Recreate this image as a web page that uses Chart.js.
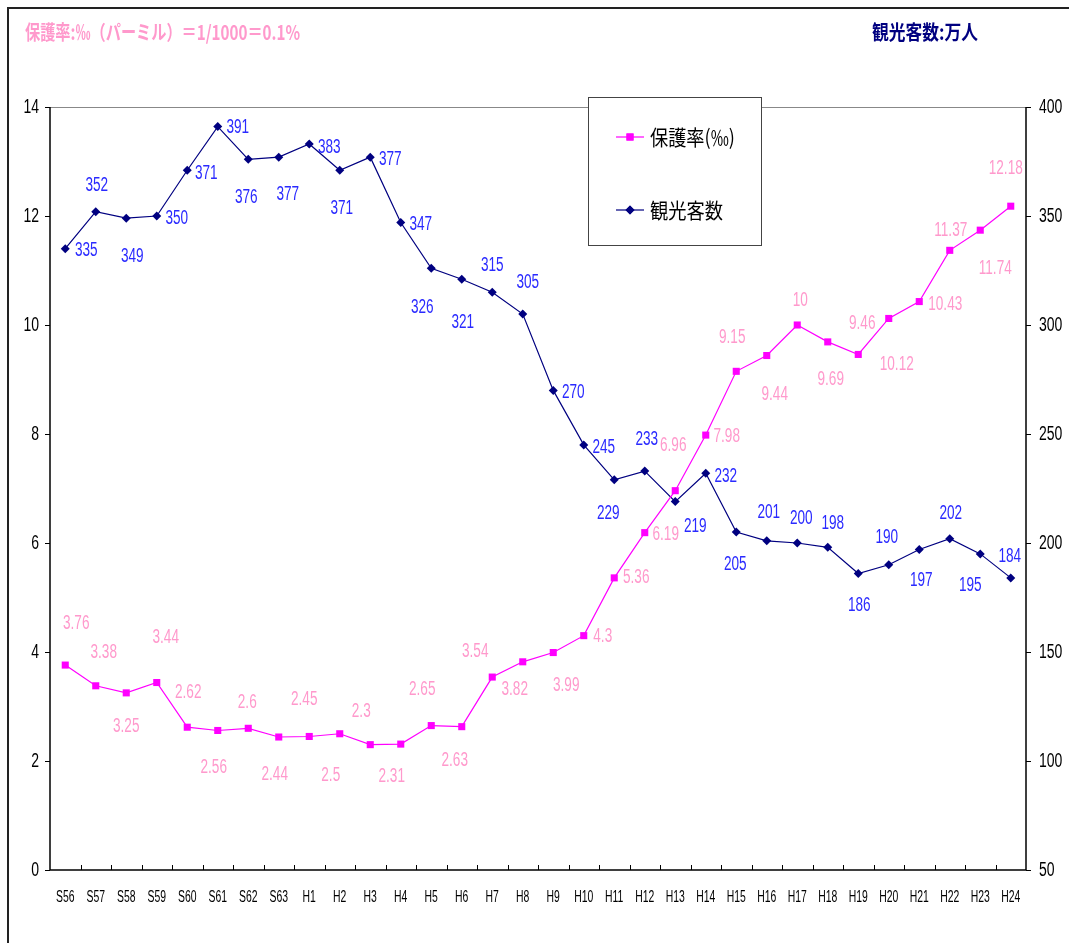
<!DOCTYPE html>
<html>
<head>
<meta charset="utf-8">
<script src="https://cdn.jsdelivr.net/npm/chart.js@4.4.0/dist/chart.umd.min.js"></script>
<style>
    html, body { margin: 0; padding: 0; background: #fff; }
    #wrap { width: 1069px; height: 943px; position: relative; }
</style>
</head>
<body>
<div id="wrap"><canvas id="chart" width="1069" height="943"></canvas></div>
<script>
// Data
const years = ['S56', 'S57', 'S58', 'S59', 'S60', 'S61', 'S62', 'S63',
    'H1', 'H2', 'H3', 'H4', 'H5', 'H6', 'H7', 'H8', 'H9', 'H10', 'H11', 'H12',
    'H13', 'H14', 'H15', 'H16', 'H17', 'H18', 'H19', 'H20', 'H21', 'H22', 'H23', 'H24'];
const protectRate = [3.76, 3.38, 3.25, 3.44, 2.62, 2.56, 2.6, 2.44, 2.45, 2.5, 2.3, 2.31,
    2.65, 2.63, 3.54, 3.82, 3.99, 4.3, 5.36, 6.19, 6.96, 7.98, 9.15, 9.44,
    10, 9.69, 9.46, 10.12, 10.43, 11.37, 11.74, 12.18];
const visitors = [335, 352, 349, 350, 371, 391, 376, 377, 383, 371, 377, 347,
    326, 321, 315, 305, 270, 245, 229, 233, 219, 232, 205, 201,
    200, 198, 186, 190, 197, 202, 195, 184];
const leftTicks = [0, 2, 4, 6, 8, 10, 12, 14];
const rightTicks = [50, 100, 150, 200, 250, 300, 350, 400];

// where each value label sits relative to its point (dx, dy)
const rateLabelPos = [[11,-42],[8,-33],[0,34],[9,-45],[1,-35],[-4,37],[-1,-26],[-4,37],
    [-5,-37],[-9,42],[-9,-33],[-9,32],[-9,-36],[-7,34],[-17,-26],[-8,28],
    [13,33],[19,1],[22,0],[21,2],[-2,-45],[21,1],[-4,-34],[8,39],
    [3,-25],[3,38],[4,-31],[8,46],[26,3],[1,-20],[15,38],[-5,-38]];
const visitorLabelPos = [[21,2],[1,-26],[6,38],[20,2],[19,3],[20,1],[-2,38],[9,37],
    [20,3],[2,38],[20,2],[20,2],[-9,39],[1,43],[0,-27],[5,-32],
    [20,2],[20,3],[-6,34],[2,-32],[20,25],[20,3],[-1,32],[2,-28],
    [4,-25],[5,-24],[1,32],[-2,-27],[2,31],[1,-25],[-10,32],[-1,-21]];

const NUM_FONT = '20px "Liberation Sans", Arial, sans-serif';
const CJK = '"Noto Sans CJK JP", "Noto Sans", sans-serif';

function narrowText(ctx, text, x, y, sx, align) {
    ctx.save();
    ctx.translate(x, y);
    ctx.scale(sx, 1);
    ctx.textAlign = align || 'center';
    ctx.textBaseline = 'middle';
    ctx.fillText(text, 0, 0);
    ctx.restore();
}

// left-aligned text squeezed to a given width
function fitText(ctx, text, x, y, width) {
    const w = ctx.measureText(text).width;
    narrowText(ctx, text, x, y, width / w, 'left');
}

const decor = {
    id: 'decor',
    beforeDraw(chart) {
        const ctx = chart.ctx;
        ctx.save();
        ctx.fillStyle = '#fff';
        ctx.fillRect(0, 0, chart.width, chart.height);
        // outer frame
        ctx.strokeStyle = '#222';
        ctx.lineWidth = 2;
        ctx.strokeRect(8, 8, chart.width + 10, chart.height + 10);
        ctx.restore();
    },
    beforeDatasetsDraw(chart) {
        const ctx = chart.ctx;
        const a = chart.chartArea;
        const x = chart.scales.x, y = chart.scales.y, y1 = chart.scales.y1;
        ctx.save();
        // grey top edge of plot
        ctx.strokeStyle = '#888';
        ctx.lineWidth = 1;
        ctx.beginPath();
        ctx.moveTo(a.left, a.top + 0.5);
        ctx.lineTo(a.right, a.top + 0.5);
        ctx.stroke();

        ctx.strokeStyle = '#000';
        ctx.lineWidth = 1.5;
        ctx.beginPath();
        ctx.moveTo(a.left, a.top);
        ctx.lineTo(a.left, a.bottom);
        ctx.lineTo(a.right, a.bottom);
        ctx.lineTo(a.right, a.top);
        ctx.stroke();

        ctx.lineWidth = 1;
        ctx.beginPath();
        leftTicks.forEach(v => {
            const py = Math.round(y.getPixelForValue(v)) + 0.5;
            ctx.moveTo(a.left - 5, py);
            ctx.lineTo(a.left, py);
        });
        rightTicks.forEach(v => {
            const py = Math.round(y1.getPixelForValue(v)) + 0.5;
            ctx.moveTo(a.right, py);
            ctx.lineTo(a.right + 5, py);
        });
        for (let k = 1; k < years.length; k++) {
            const px = Math.round((x.getPixelForValue(k - 1) + x.getPixelForValue(k)) / 2) + 0.5;
            ctx.moveTo(px, a.bottom);
            ctx.lineTo(px, a.bottom - 5);
        }
        ctx.stroke();

        // tick labels
        ctx.fillStyle = '#000';
        ctx.font = NUM_FONT;
        leftTicks.forEach(v => narrowText(ctx, String(v), a.left - 11, y.getPixelForValue(v), 0.7, 'right'));
        rightTicks.forEach(v => narrowText(ctx, String(v), a.right + 13, y1.getPixelForValue(v), 0.7, 'left'));
        ctx.font = '16px "Liberation Sans", Arial, sans-serif';
        years.forEach((t, i) => narrowText(ctx, t, x.getPixelForValue(i), a.bottom + 28, 0.65, 'center'));
        ctx.restore();
    },
    afterDatasetsDraw(chart) {
        const ctx = chart.ctx;
        ctx.save();
        ctx.font = NUM_FONT;
        const sets = [
            { meta: chart.getDatasetMeta(0), vals: protectRate, pos: rateLabelPos, color: '#ff99cc' },
            { meta: chart.getDatasetMeta(1), vals: visitors, pos: visitorLabelPos, color: '#2a2aff' }
        ];
        sets.forEach(s => {
            ctx.fillStyle = s.color;
            s.meta.data.forEach((pt, i) => {
                narrowText(ctx, String(s.vals[i]), pt.x + s.pos[i][0], pt.y + s.pos[i][1], 0.68, 'center');
            });
        });
        ctx.restore();
    },
    afterDraw(chart) {
        const ctx = chart.ctx;
        ctx.save();
        // titles
        ctx.font = 'bold 20px ' + CJK;
        ctx.fillStyle = '#ff99cc';
        fitText(ctx, '保護率:‰（パーミル）＝1/1000＝0.1%', 25, 32, 275);
        ctx.fillStyle = '#000080';
        fitText(ctx, '観光客数:万人', 872, 32, 106);

        // legend box
        ctx.fillStyle = '#fff';
        ctx.fillRect(588, 97, 174, 149);
        ctx.strokeStyle = '#444';
        ctx.lineWidth = 1;
        ctx.strokeRect(588.5, 97.5, 173, 148);

        const rows = [137, 210];
        const widths = [85, 73];
        chart.data.datasets.forEach((ds, i) => {
            const ly = rows[i];
            ctx.strokeStyle = ds.borderColor;
            ctx.lineWidth = 1.2;
            ctx.beginPath();
            ctx.moveTo(616, ly);
            ctx.lineTo(644, ly);
            ctx.stroke();
            ctx.fillStyle = ds.pointBackgroundColor;
            Chart.helpers.drawPoint(ctx, { pointStyle: ds.pointStyle, radius: ds.pointRadius, rotation: 0, borderWidth: 0 }, 630, ly);
            ctx.fill();
            ctx.fillStyle = '#000';
            ctx.font = '21px ' + CJK;
            fitText(ctx, ds.label, 650, ly, widths[i]);
        });
        ctx.restore();
    }
};

new Chart(document.getElementById('chart'), {
    type: 'line',
    data: {
        labels: years,
        datasets: [{
            label: '保護率(‰)',
            data: protectRate,
            yAxisID: 'y',
            borderColor: '#ff00ff',
            backgroundColor: '#ff00ff',
            pointBackgroundColor: '#ff00ff',
            pointBorderColor: '#ff00ff',
            pointStyle: 'rect',
            pointRadius: 5,
            pointBorderWidth: 0,
            borderWidth: 1.2,
            tension: 0
        }, {
            label: '観光客数',
            data: visitors,
            yAxisID: 'y1',
            borderColor: '#000080',
            backgroundColor: '#000080',
            pointBackgroundColor: '#000080',
            pointBorderColor: '#000080',
            pointStyle: 'rectRot',
            pointRadius: 4.5,
            pointBorderWidth: 0,
            borderWidth: 1.2,
            tension: 0
        }]
    },
    options: {
        responsive: false,
        animation: false,
        devicePixelRatio: 1,
        layout: { padding: { left: 50, right: 43, top: 107, bottom: 73 } },
        plugins: { legend: { display: false }, tooltip: { enabled: false } },
        scales: {
            x: { display: false, offset: true },
            y: { display: false, min: 0, max: 14 },
            y1: { display: false, position: 'right', min: 50, max: 400 }
        }
    },
    plugins: [decor]
});
</script>
</body>
</html>
